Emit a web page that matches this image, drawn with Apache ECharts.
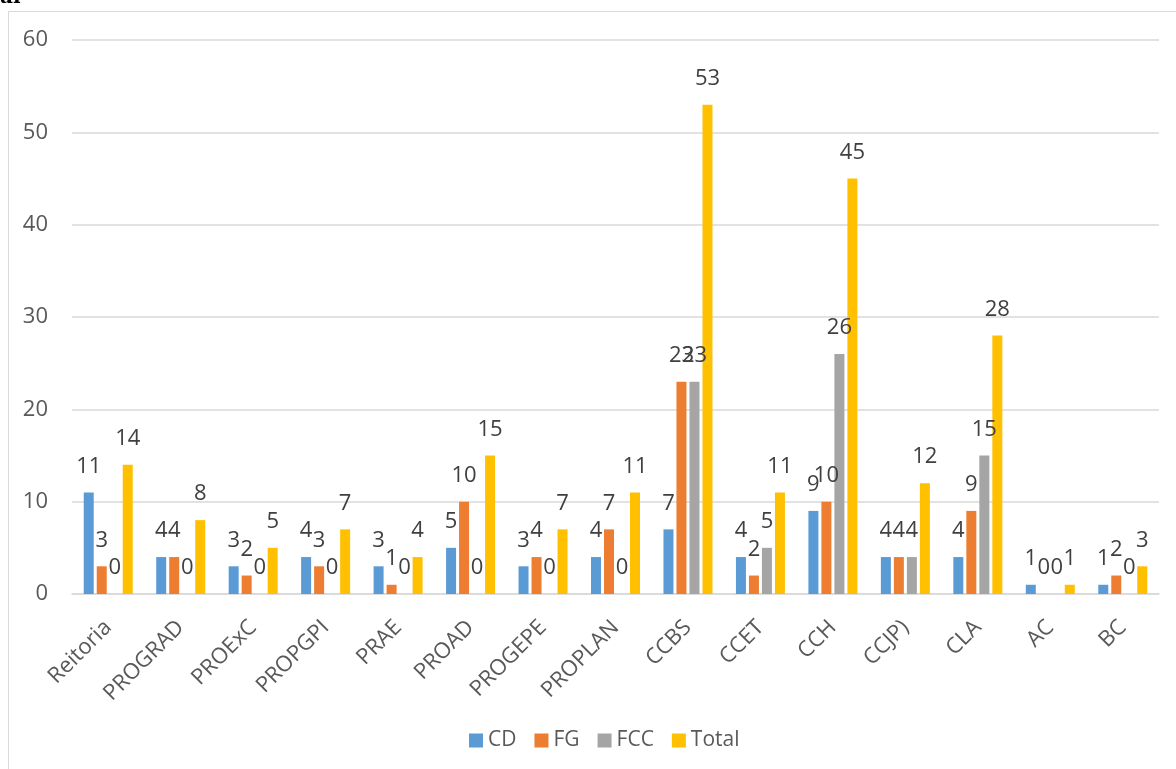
<!DOCTYPE html>
<html><head><meta charset="utf-8">
<script src="https://cdn.jsdelivr.net/npm/echarts@6/dist/echarts.min.js"></script>
<style>html,body{margin:0;padding:0;background:#fff}#c{width:1176px;height:769px}</style>
</head><body><div id="c"></div>
<script>
const categories = ['Reitoria','PROGRAD','PROExC','PROPGPI','PRAE','PROAD','PROGEPE','PROPLAN','CCBS','CCET','CCH','CCJP)','CLA','AC','BC'];
const CD    = [11,4,3,4,3,5,3,4,7,4,9,4,4,1,1];
const FG    = [3,4,2,3,1,10,4,7,23,2,10,4,9,0,2];
const FCC   = [0,0,0,0,0,0,0,0,23,5,26,4,15,0,0];
const Total = [14,8,5,7,4,15,7,11,53,11,45,12,28,1,3];
const seriesNames = ['CD','FG','FCC','Total'];
const colors = ['#5B9BD5','#ED7D31','#A5A5A5','#FFC000'];
const FONT = 'Open Sans';
const chart = echarts.init(document.getElementById('c'));
const mk = (name, data, i) => ({
  name, type:'bar', data, barWidth:10, barGap:'30%',
  itemStyle:{color:colors[i]},
  label:{show:true, position:'top', distance:15, color:'#404040', fontSize:22, fontFamily:FONT}
});
chart.setOption({
  animation:false,
  textStyle:{fontFamily:FONT},
  grid:{left:72, right:17, top:40, bottom:175},
  graphic:[
    {type:'rect', shape:{x:8.5, y:11.5, width:1300, height:900}, style:{fill:null, stroke:'#d9d9d9', lineWidth:1}, silent:true},
    {type:'text', left:0, top:-12, style:{text:'al', font:'bold 20px "DejaVu Serif"', fill:'#000'}}
  ],
  legend:{bottom:13, left:464, itemWidth:14, itemHeight:14, itemGap:18, icon:'rect',
    textStyle:{color:'#595959', fontSize:21, fontFamily:FONT}, data:seriesNames},
  xAxis:{type:'category', data:categories,
    axisLine:{lineStyle:{color:'#d9d9d9', width:1.5}}, axisTick:{show:false},
    axisLabel:{rotate:45, color:'#595959', fontSize:22, fontFamily:FONT, margin:30, interval:0}},
  yAxis:{type:'value', min:0, max:60, interval:10,
    axisLine:{show:false}, axisTick:{show:false},
    splitLine:{lineStyle:{color:'#d9d9d9', width:1.5}},
    axisLabel:{color:'#595959', fontSize:22, fontFamily:FONT, margin:24}},
  series:[mk('CD',CD,0), mk('FG',FG,1), mk('FCC',FCC,2), mk('Total',Total,3)]
});
</script></body></html>
